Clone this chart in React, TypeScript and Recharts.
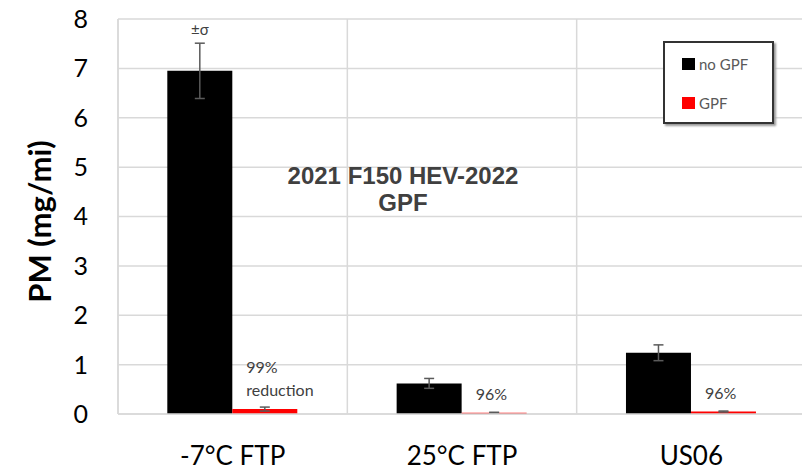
import { BarChart, Bar, XAxis, YAxis, CartesianGrid, ErrorBar, LabelList } from 'recharts';

const categories = ['-7°C FTP', '25°C FTP', 'US06'];
const noGpf = [6.95, 0.62, 1.24];
const noGpfErr = [0.56, 0.1, 0.16];
const gpf = [0.1, 0.025, 0.05];
const gpfErr = [0.04, 0.01, 0.01];
const notes = [['99%', 'reduction'], ['96%'], ['96%']];
const yTicks = [0, 1, 2, 3, 4, 5, 6, 7, 8];

const data = categories.map((name, i) => ({
  name,
  noGpf: noGpf[i],
  noGpfErr: noGpfErr[i],
  gpf: gpf[i],
  gpfErr: gpfErr[i],
}));

const FONT = 'Lato, "Open Sans", sans-serif';

// "±σ" only above the first black bar
const SigmaLabel = (props: any) => {
  const { x, y, width, index } = props;
  if (index !== 0) return null;
  return (
    <text x={x + width / 2} y={y - 36} textAnchor="middle" fontSize={15} fill="#404040" fontFamily={FONT}>
      ±σ
    </text>
  );
};

const NoteLabel = (props: any) => {
  const { x, y, index } = props;
  const lines = notes[index] || [];
  return (
    <text x={x + 14} y={y} textAnchor="start" fontSize={16} fill="#404040" fontFamily={FONT}>
      {lines.map((l, k) => (
        <tspan key={k} x={x + 14} y={y - 13 - (lines.length - 1 - k) * 23}>
          {l}
        </tspan>
      ))}
    </text>
  );
};

const LegendBox = () => (
  <div
    style={{
      position: 'absolute',
      left: 663,
      top: 41,
      width: 107,
      height: 79,
      border: '2px solid #333',
      boxShadow: '2px 2px 2px #999',
      background: '#fff',
      fontFamily: FONT,
      fontSize: 15,
      color: '#595959',
    }}
  >
    <div style={{ position: 'absolute', left: 17, top: 12, display: 'flex', alignItems: 'center' }}>
      <span style={{ display: 'inline-block', width: 13, height: 12, background: '#000', marginRight: 4 }} />
      no GPF
    </div>
    <div style={{ position: 'absolute', left: 17, top: 51, display: 'flex', alignItems: 'center' }}>
      <span style={{ display: 'inline-block', width: 13, height: 12, background: '#ff0000', marginRight: 4 }} />
      GPF
    </div>
  </div>
);

const YLabel = (props: any) => {
  const { viewBox } = props;
  const cx = 39;
  const cy = viewBox.y + viewBox.height / 2 + 5;
  return (
    <text
      x={cx}
      y={cy}
      transform={`rotate(-90, ${cx}, ${cy})`}
      textAnchor="middle"
      dominantBaseline="central"
      fontSize={31}
      fontWeight="bold"
      fill="#000"
      fontFamily={FONT}
    >
      PM (mg/mi)
    </text>
  );
};

export default function App() {
  return (
    <div style={{ position: 'absolute', left: 0, top: 0, width: 802, height: 470, overflow: 'hidden', background: '#fff' }}>
      <BarChart
        width={810}
        height={470}
        data={data}
        margin={{ top: 19, right: 4, left: 48, bottom: 6 }}
        barCategoryGap="21.5%"
        barGap={0}
      >
        <CartesianGrid
          stroke="#d9d9d9"
          strokeWidth={1.5}
          verticalCoordinatesGenerator={(p: any) => {
            const o = p.offset || { left: 118, width: 688 };
            return [0, 1, 2, 3].map(i => o.left + (i * o.width) / 3);
          }}
        />
        <XAxis
          dataKey="name"
          height={50}
          tickLine={false}
          tickSize={0}
          tickMargin={33}
          axisLine={{ stroke: '#d9d9d9', strokeWidth: 1.5 }}
          tick={{ fontSize: 26, fill: '#000', fontFamily: FONT }}
        />
        <YAxis
          width={70}
          domain={[0, 8]}
          ticks={yTicks}
          interval={0}
          tickLine={false}
          tickSize={0}
          tickMargin={30}
          axisLine={{ stroke: '#d9d9d9', strokeWidth: 1.5 }}
          tick={{ fontSize: 25, fill: '#000', fontFamily: FONT }}
          label={<YLabel />}
        />
        <Bar dataKey="noGpf" fill="#000" isAnimationActive={false}>
          <ErrorBar dataKey="noGpfErr" width={5} strokeWidth={1.5} stroke="#5a5a5a" direction="y" />
          <LabelList dataKey="noGpf" content={<SigmaLabel />} />
        </Bar>
        <Bar dataKey="gpf" fill="#ff0000" isAnimationActive={false}>
          <ErrorBar dataKey="gpfErr" width={5} strokeWidth={1.5} stroke="#5a5a5a" direction="y" />
          <LabelList dataKey="gpf" content={<NoteLabel />} />
        </Bar>
      </BarChart>
      <LegendBox />
      <div
        style={{
          position: 'absolute',
          left: 253,
          top: 162,
          width: 300,
          textAlign: 'center',
          fontFamily: '"Liberation Sans", Arial, sans-serif',
          fontWeight: 'bold',
          fontSize: 24,
          lineHeight: '27px',
          color: '#404040',
        }}
      >
        2021 F150 HEV-2022
        <br />
        GPF
      </div>
    </div>
  );
}
